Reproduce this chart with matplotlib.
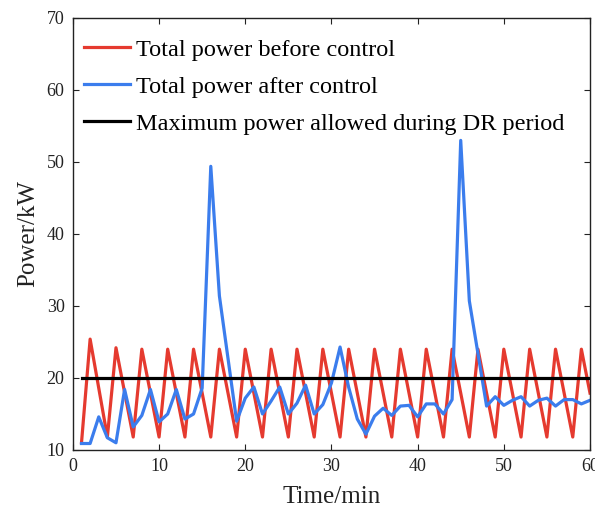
import matplotlib
matplotlib.use('Agg')
import matplotlib.pyplot as plt

plt.rcParams['font.family'] = ['Liberation Serif', 'DejaVu Serif']

# minutes 1..60
time_min = list(range(1, 61))

before_ctrl = [11.0, 25.4, 18.6, 11.8, 24.2, 18.0, 11.8, 24.0, 17.9, 11.8,
               24.0, 17.9, 11.8, 24.0, 17.9, 11.8, 24.0, 17.9, 11.8, 24.0,
               17.9, 11.8, 24.0, 17.9, 11.8, 24.0, 17.9, 11.8, 24.0, 17.9,
               11.8, 24.0, 17.9, 11.8, 24.0, 17.9, 11.8, 24.0, 17.9, 11.8,
               24.0, 17.9, 11.8, 24.0, 17.9, 11.8, 24.0, 17.9, 11.8, 24.0,
               17.9, 11.8, 24.0, 17.9, 11.8, 24.0, 17.9, 11.8, 24.0, 17.9]

after_ctrl = [10.9, 10.9, 14.6, 11.7, 11.0, 18.4, 13.2, 14.8, 18.4, 13.9,
              15.0, 18.4, 14.3, 15.0, 18.6, 49.4, 31.4, 22.7, 14.0, 17.2,
              18.75, 15.0, 16.8, 18.75, 15.0, 16.5, 19.0, 15.0, 16.3, 19.3,
              24.3, 18.7, 14.3, 12.2, 14.7, 15.8, 14.8, 16.1, 16.2, 14.6,
              16.4, 16.4, 15.0, 17.0, 53.0, 30.7, 23.4, 16.1, 17.4, 16.2,
              16.9, 17.4, 16.1, 16.9, 17.2, 16.1, 17.0, 17.0, 16.4, 16.9]

max_allowed = [20.0] * 60

fig = plt.figure(figsize=(5.95, 5.11), dpi=100)
ax = fig.add_axes([0.1225, 0.1194, 0.8691, 0.8454])

ax.plot(time_min, before_ctrl, color='#e53a2f', lw=2.3, label='Total power before control')
ax.plot(time_min, after_ctrl, color='#3b7ded', lw=2.3, label='Total power after control')
ax.plot(time_min, max_allowed, color='black', lw=2.3, label='Maximum power allowed during DR period')

ax.set_xlim(0, 60)
ax.set_ylim(10, 70)
ax.set_xticks(range(0, 61, 10))
ax.set_yticks(range(10, 71, 10))
ax.tick_params(direction='in', top=True, right=True, labelsize=13, length=4, width=0.8,
               colors='#222', pad=6)
for s in ax.spines.values():
    s.set_linewidth(1.0)
    s.set_color('#222')

ax.set_xlabel('Time/min', fontsize=18, color='#222', labelpad=8)
ax.set_ylabel('Power/kW', fontsize=18, color='#222', labelpad=5)

ax.legend(loc='upper left', frameon=False, fontsize=17.5, handlelength=1.9,
          handletextpad=0.25, labelspacing=0.62, borderaxespad=0.0,
          bbox_to_anchor=(0.003, 0.975))

fig.savefig('out.png', dpi=100)
